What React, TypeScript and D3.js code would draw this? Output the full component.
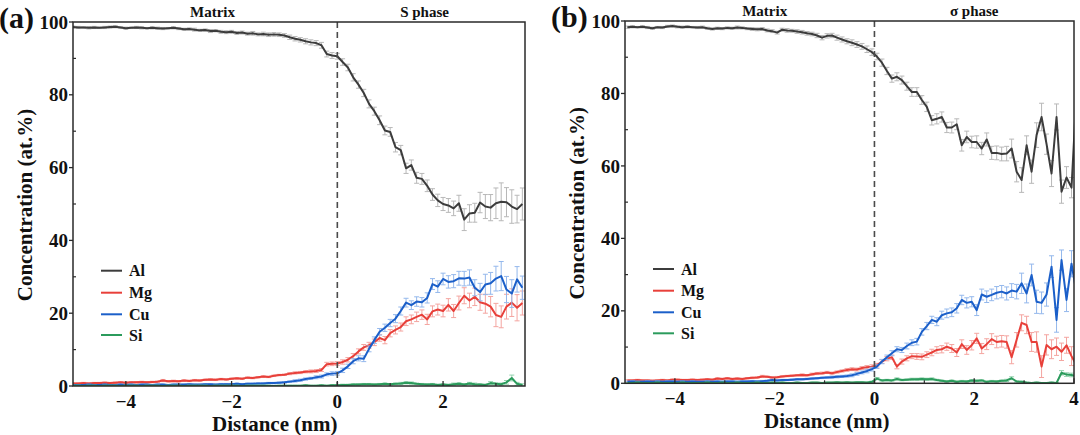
import * as d3 from "d3";

const FONT = '"Liberation Serif", "Times New Roman", serif';

const elements = ["Al", "Mg", "Cu", "Si"];
const lineColors = ["#3c3c3c", "#e8403a", "#1b5fc9", "#2b9b5c"];
const barColors = ["#b8b8b8", "#f4a5a0", "#94b8ec", "#94d2ae"];

const yMajor = [0, 20, 40, 60, 80, 100];
const yMinor = [10, 30, 50, 70, 90];

// (a) Matrix / S phase, sampled every 0.1 nm from -5.0 nm
const distA = d3.range(86).map((i) => -5 + i * 0.1);
const xMajorA = [-4, -2, 0, 2];
const xMinorA = [-3, -1, 1, 3];

const alA = [
  98.6, 98.5, 98.5, 98.4, 98.5, 98.4, 98.5, 98.6, 98.7, 98.5,
  98.3, 98.4, 98.5, 98.4, 98.3, 98.4, 98.3, 98.2, 98.3, 98.4,
  98.2, 98.0, 98.1, 97.9, 97.7, 97.8, 97.5, 97.6, 97.3, 97.2,
  97.3, 97.0, 97.1, 96.8, 96.9, 96.6, 96.7, 96.5, 96.6, 96.5,
  96.3, 95.8, 95.4, 95.1, 94.7, 94.4, 94.2, 93.6, 91.2, 90.8,
  90.6, 89.0, 87.5, 84.8, 82.8, 80.5, 77.5, 75.5, 73.0, 70.2,
  69.8, 65.6, 64.8, 59.8, 60.7, 57.2, 56.9, 55.0, 52.6, 51.0,
  50.0, 49.6, 48.8, 50.2, 45.7, 47.4, 47.6, 50.4, 49.3, 49.0,
  50.2, 50.6, 50.5, 49.3, 48.6, 50.0,
];
const mgA = [
  0.7, 0.7, 0.8, 0.7, 0.8, 0.8, 0.9, 0.8, 0.9, 1.0,
  0.9, 1.0, 1.0, 1.1, 1.0, 1.1, 1.2, 1.5, 1.3, 1.4,
  1.3, 1.5, 1.4, 1.6, 1.5, 1.7, 1.8, 1.7, 1.9, 1.8,
  2.0, 2.1, 2.0, 2.3, 2.2, 2.4, 2.6, 2.5, 2.8, 3.0,
  3.1, 3.4, 3.6, 3.7, 3.9, 4.0, 4.1, 4.4, 6.0, 6.1,
  6.2, 6.6, 7.2, 8.2, 9.5, 10.6, 11.2, 12.0, 13.2, 12.6,
  14.5, 15.4, 16.2, 17.8, 18.3, 19.0, 19.6, 18.3, 20.5, 21.0,
  20.6, 22.3, 20.6, 22.8, 24.8, 23.5, 24.5, 23.0, 22.6, 21.8,
  19.5, 19.0, 21.8, 22.9, 21.5, 22.8,
];
const cuA = [
  0.3, 0.3, 0.3, 0.4, 0.3, 0.3, 0.4, 0.3, 0.3, 0.4,
  0.3, 0.4, 0.3, 0.4, 0.4, 0.3, 0.4, 0.4, 0.3, 0.4,
  0.4, 0.4, 0.5, 0.4, 0.4, 0.5, 0.5, 0.4, 0.5, 0.5,
  0.5, 0.6, 0.5, 0.6, 0.6, 0.7, 0.7, 0.8, 0.8, 0.9,
  1.0, 1.2, 1.4, 1.6, 1.9, 2.1, 2.4, 2.6, 3.2, 3.4,
  3.5, 4.3, 5.4, 6.8, 7.6, 7.5, 10.2, 12.6, 14.9, 16.0,
  17.3, 18.5, 20.6, 22.9, 22.2, 23.2, 23.0, 24.2, 28.0, 27.3,
  29.4, 28.6, 28.8, 29.6, 29.5, 29.8, 27.0, 25.8, 27.9, 28.2,
  29.5, 30.2, 26.5, 25.4, 29.3, 27.0,
];
const siA = [
  0.1, 0.1, 0.0, 0.1, 0.1, 0.0, 0.1, 0.1, 0.1, 0.0,
  0.1, 0.1, 0.1, 0.0, 0.1, 0.1, 0.1, 0.0, 0.1, 0.1,
  0.1, 0.0, 0.1, 0.1, 0.1, 0.1, 0.0, 0.1, 0.1, 0.1,
  0.1, 0.1, 0.0, 0.1, 0.1, 0.1, 0.1, 0.1, 0.0, 0.1,
  0.1, 0.1, 0.1, 0.1, 0.2, 0.1, 0.1, 0.2, 0.1, 0.2,
  0.2, 0.3, 0.3, 0.4, 0.4, 0.5, 0.5, 0.4, 0.5, 0.6,
  0.5, 0.6, 0.7, 0.9, 0.8, 0.6, 0.5, 0.4, 0.5, 0.3,
  0.4, 0.3, 0.5, 0.6, 0.4, 0.7, 0.5, 0.4, 0.3, 0.8,
  0.6, 0.5, 1.0, 2.2, 0.6, 0.3,
];
const alErrA = [
  0.3, 0.3, 0.2, 0.3, 0.3, 0.2, 0.3, 0.3, 0.3, 0.2,
  0.3, 0.2, 0.3, 0.3, 0.2, 0.3, 0.3, 0.3, 0.2, 0.3,
  0.3, 0.3, 0.3, 0.4, 0.3, 0.3, 0.4, 0.3, 0.4, 0.4,
  0.4, 0.4, 0.4, 0.4, 0.5, 0.4, 0.5, 0.5, 0.5, 0.5,
  0.5, 0.6, 0.6, 0.6, 0.7, 0.7, 0.7, 0.8, 0.8, 0.8,
  0.8, 0.9, 0.9, 1.0, 1.0, 1.0, 1.1, 1.1, 1.2, 1.2,
  1.2, 1.3, 1.3, 1.4, 1.4, 1.5, 1.5, 1.6, 1.6, 1.7,
  1.8, 1.9, 2.0, 2.2, 3.0, 2.4, 2.6, 2.8, 3.3, 3.6,
  4.2, 5.2, 4.0, 4.6, 3.8, 4.4,
];
const mgErrA = [
  0.2, 0.2, 0.2, 0.2, 0.2, 0.2, 0.2, 0.2, 0.2, 0.2,
  0.2, 0.2, 0.2, 0.2, 0.2, 0.2, 0.2, 0.3, 0.2, 0.2,
  0.2, 0.2, 0.2, 0.2, 0.2, 0.2, 0.2, 0.2, 0.2, 0.2,
  0.2, 0.2, 0.2, 0.2, 0.2, 0.2, 0.2, 0.2, 0.2, 0.2,
  0.2, 0.3, 0.3, 0.3, 0.3, 0.4, 0.4, 0.4, 0.5, 0.5,
  0.5, 0.6, 0.6, 0.7, 0.7, 0.8, 0.8, 0.9, 0.9, 1.0,
  1.0, 1.1, 1.1, 1.2, 1.2, 1.3, 1.3, 1.4, 1.5, 1.5,
  1.6, 1.7, 1.8, 1.9, 2.2, 2.0, 2.4, 2.2, 2.6, 2.8,
  3.2, 3.0, 3.4, 3.8, 3.6, 3.3,
];
const cuErrA = [
  0.1, 0.1, 0.1, 0.1, 0.1, 0.1, 0.1, 0.1, 0.1, 0.1,
  0.1, 0.1, 0.1, 0.1, 0.1, 0.1, 0.1, 0.1, 0.1, 0.1,
  0.1, 0.1, 0.1, 0.1, 0.1, 0.1, 0.1, 0.1, 0.2, 0.2,
  0.2, 0.2, 0.2, 0.2, 0.2, 0.2, 0.2, 0.2, 0.2, 0.2,
  0.2, 0.2, 0.3, 0.3, 0.3, 0.3, 0.4, 0.4, 0.4, 0.5,
  0.5, 0.6, 0.6, 0.7, 0.7, 0.8, 0.8, 0.9, 0.9, 1.0,
  1.0, 1.1, 1.1, 1.2, 1.2, 1.3, 1.3, 1.4, 1.5, 1.6,
  1.6, 1.7, 1.8, 1.9, 2.0, 2.1, 2.2, 2.4, 2.8, 3.0,
  3.4, 4.0, 3.6, 3.8, 3.5, 3.2,
];
const siErrA = [
  0.1, 0.1, 0.1, 0.1, 0.1, 0.1, 0.1, 0.1, 0.1, 0.1,
  0.1, 0.1, 0.1, 0.1, 0.1, 0.1, 0.1, 0.1, 0.1, 0.1,
  0.1, 0.1, 0.1, 0.1, 0.1, 0.1, 0.1, 0.1, 0.1, 0.1,
  0.1, 0.1, 0.1, 0.1, 0.1, 0.1, 0.1, 0.1, 0.1, 0.1,
  0.1, 0.1, 0.1, 0.1, 0.1, 0.1, 0.1, 0.1, 0.1, 0.2,
  0.2, 0.2, 0.2, 0.2, 0.2, 0.2, 0.2, 0.2, 0.2, 0.2,
  0.2, 0.2, 0.3, 0.3, 0.3, 0.2, 0.2, 0.2, 0.2, 0.2,
  0.2, 0.2, 0.3, 0.3, 0.2, 0.3, 0.3, 0.2, 0.2, 0.4,
  0.3, 0.3, 0.5, 0.8, 0.4, 0.3,
];

// (b) Matrix / sigma phase, sampled every 0.1 nm from -4.95 nm
const distB = d3.range(91).map((i) => -4.95 + i * 0.1);
const xMajorB = [-4, -2, 0, 2, 4];
const xMinorB = [-3, -1, 1, 3];

const alB = [
  98.3, 98.4, 98.3, 98.4, 98.2, 98.0, 98.3, 98.2, 98.5, 98.6,
  98.4, 98.3, 98.4, 98.3, 98.2, 98.3, 98.0, 97.8, 98.0, 97.9,
  98.1, 98.0, 98.2, 98.1, 97.9, 97.8, 97.7, 97.8, 97.4, 97.2,
  96.8, 97.6, 97.4, 97.3, 97.1, 96.9, 96.6, 96.4, 96.0, 95.4,
  95.9, 96.0, 95.4, 94.9, 94.4, 94.0, 93.5, 93.0, 92.2, 91.4,
  90.2, 88.5, 86.2, 84.1, 84.6, 83.7, 82.0, 80.4, 80.4, 78.2,
  76.3, 72.6, 73.0, 73.5, 70.6, 70.6, 71.5, 65.7, 68.0, 66.6,
  66.6, 64.8, 67.3, 63.6, 63.6, 63.3, 63.4, 64.8, 58.4, 56.1,
  65.7, 58.4, 68.5, 73.5, 66.0, 57.9, 73.5, 52.9, 56.8, 54.0,
  80.0,
];
const mgB = [
  0.8, 0.8, 0.9, 0.8, 0.8, 0.7, 0.8, 0.9, 0.8, 1.0,
  1.0, 0.9, 0.9, 1.0, 0.9, 1.0, 1.1, 1.0, 1.3, 1.2,
  1.4, 1.2, 1.3, 1.2, 1.4, 1.5, 1.6, 1.9, 1.8, 1.6,
  1.7, 1.9, 2.0, 2.1, 2.2, 2.3, 2.2, 2.5, 2.7, 2.8,
  3.0, 2.8, 3.1, 3.4, 3.7, 3.9, 3.8, 4.2, 4.4, 4.6,
  5.0, 6.0, 6.8, 7.2, 4.6, 6.0, 6.9, 7.5, 7.4, 7.3,
  7.9, 8.5, 9.2, 9.4, 10.1, 9.6, 8.5, 10.8, 9.2, 10.5,
  12.4, 9.6, 10.8, 12.2, 11.4, 11.6, 11.4, 7.2, 12.0, 16.7,
  16.1, 11.4, 11.4, 4.6, 10.6, 9.4, 10.1, 8.7, 10.5, 7.5,
  5.0,
];
const cuB = [
  0.4, 0.5, 0.4, 0.4, 0.5, 0.4, 0.5, 0.4, 0.5, 0.5,
  0.4, 0.5, 0.4, 0.5, 0.4, 0.4, 0.5, 0.4, 0.5, 0.4,
  0.5, 0.5, 0.4, 0.5, 0.5, 0.6, 0.5, 0.6, 0.7, 0.9,
  0.8, 0.9, 0.9, 1.0, 1.1, 1.1, 1.2, 1.3, 1.4, 1.5,
  1.6, 1.7, 1.8, 1.9, 2.0, 2.2, 2.6, 3.0, 3.4, 3.9,
  4.6, 6.0, 7.2, 8.3, 9.4, 9.2, 10.3, 11.2, 11.5, 14.2,
  15.8, 17.5, 17.0, 18.8, 19.3, 19.6, 20.7, 23.0, 22.2, 22.5,
  20.2, 24.5, 23.9, 24.4, 25.0, 25.3, 24.8, 25.6, 25.3, 27.6,
  24.8, 29.9, 22.5, 22.2, 24.5, 32.2, 17.5, 34.0, 23.0, 33.0,
  25.0,
];
const siB = [
  0.1, 0.1, 0.2, 0.1, 0.1, 0.1, 0.2, 0.1, 0.1, 0.1,
  0.1, 0.2, 0.1, 0.1, 0.1, 0.1, 0.2, 0.1, 0.1, 0.2,
  0.1, 0.1, 0.2, 0.1, 0.1, 0.1, 0.2, 0.1, 0.1, 0.2,
  0.1, 0.2, 0.1, 0.1, 0.2, 0.1, 0.1, 0.2, 0.2, 0.1,
  0.2, 0.2, 0.3, 0.2, 0.3, 0.2, 0.3, 0.3, 0.2, 0.4,
  1.3, 0.8, 0.9, 0.8, 1.2, 0.9, 1.0, 1.1, 1.1, 1.2,
  1.1, 1.2, 0.9, 0.7, 0.5, 0.7, 0.4, 0.6, 0.5, 0.8,
  0.7, 0.8, 0.4, 0.6, 0.5, 0.7, 0.8, 1.4, 0.5, 0.4,
  0.2, 0.1, 0.2, 0.1, 0.1, 0.2, 0.1, 2.9, 2.4, 2.3,
  2.0,
];
const alErrB = [
  0.3, 0.3, 0.2, 0.3, 0.3, 0.3, 0.2, 0.3, 0.3, 0.3,
  0.3, 0.3, 0.3, 0.2, 0.3, 0.3, 0.3, 0.3, 0.3, 0.3,
  0.3, 0.3, 0.4, 0.3, 0.3, 0.4, 0.4, 0.4, 0.4, 0.4,
  0.4, 0.4, 0.5, 0.4, 0.5, 0.5, 0.5, 0.5, 0.6, 0.6,
  0.6, 0.6, 0.7, 0.7, 0.7, 0.8, 0.8, 0.8, 0.9, 0.9,
  0.9, 1.0, 1.0, 1.0, 1.1, 1.1, 1.1, 1.2, 1.2, 1.2,
  1.3, 1.3, 1.4, 1.4, 1.4, 1.5, 1.5, 1.6, 1.6, 1.6,
  1.7, 1.7, 1.8, 1.8, 1.9, 1.9, 2.0, 2.6, 2.8, 3.4,
  2.6, 3.2, 3.4, 3.8, 2.8, 3.6, 3.6, 3.2, 3.0, 2.8,
  3.0,
];
const mgErrB = [
  0.2, 0.2, 0.2, 0.2, 0.2, 0.2, 0.2, 0.2, 0.2, 0.2,
  0.2, 0.2, 0.2, 0.2, 0.2, 0.2, 0.2, 0.2, 0.2, 0.2,
  0.2, 0.2, 0.2, 0.2, 0.2, 0.2, 0.2, 0.3, 0.2, 0.2,
  0.2, 0.2, 0.2, 0.2, 0.2, 0.3, 0.2, 0.3, 0.3, 0.3,
  0.3, 0.3, 0.3, 0.3, 0.4, 0.4, 0.4, 0.4, 0.5, 0.5,
  0.5, 0.5, 0.6, 0.6, 0.6, 0.7, 0.7, 0.7, 0.8, 0.8,
  0.8, 0.9, 0.9, 1.0, 1.0, 1.1, 1.1, 1.2, 1.2, 1.3,
  1.4, 1.4, 1.5, 1.5, 1.6, 1.6, 1.7, 1.8, 2.0, 2.2,
  2.4, 2.6, 2.8, 3.0, 2.8, 2.6, 2.4, 2.4, 2.2, 2.6,
  2.4,
];
const cuErrB = [
  0.2, 0.2, 0.2, 0.2, 0.2, 0.2, 0.2, 0.2, 0.2, 0.2,
  0.2, 0.2, 0.2, 0.2, 0.2, 0.2, 0.2, 0.2, 0.2, 0.2,
  0.2, 0.2, 0.2, 0.2, 0.2, 0.2, 0.2, 0.2, 0.2, 0.2,
  0.2, 0.2, 0.2, 0.2, 0.2, 0.2, 0.2, 0.2, 0.2, 0.2,
  0.2, 0.3, 0.3, 0.3, 0.3, 0.4, 0.4, 0.4, 0.5, 0.5,
  0.5, 0.6, 0.6, 0.7, 0.7, 0.7, 0.8, 0.8, 0.9, 0.9,
  1.0, 1.0, 1.1, 1.1, 1.2, 1.2, 1.3, 1.3, 1.4, 1.4,
  1.5, 1.5, 1.6, 1.6, 1.7, 1.7, 1.8, 1.9, 2.0, 2.8,
  2.6, 3.0, 3.2, 3.0, 3.2, 3.0, 3.4, 2.8, 3.2, 3.6,
  3.0,
];
const siErrB = [
  0.1, 0.1, 0.1, 0.1, 0.1, 0.1, 0.1, 0.1, 0.1, 0.1,
  0.1, 0.1, 0.1, 0.1, 0.1, 0.1, 0.1, 0.1, 0.1, 0.1,
  0.1, 0.1, 0.1, 0.1, 0.1, 0.1, 0.1, 0.1, 0.1, 0.1,
  0.1, 0.1, 0.1, 0.1, 0.1, 0.1, 0.1, 0.1, 0.1, 0.1,
  0.1, 0.1, 0.1, 0.1, 0.1, 0.1, 0.1, 0.1, 0.1, 0.2,
  0.3, 0.2, 0.2, 0.2, 0.3, 0.2, 0.2, 0.3, 0.3, 0.3,
  0.3, 0.3, 0.2, 0.2, 0.2, 0.2, 0.2, 0.2, 0.2, 0.2,
  0.2, 0.2, 0.2, 0.2, 0.2, 0.2, 0.3, 0.4, 0.2, 0.2,
  0.1, 0.1, 0.1, 0.1, 0.1, 0.1, 0.1, 0.6, 0.5, 0.5,
  0.5,
];

type Box = { left: number; right: number; top: number; bottom: number };

type PanelProps = {
  id: string;
  tag: string;
  phase: string;
  box: Box;
  xMax: number;
  xMajor: number[];
  xMinor: number[];
  dist: number[];
  values: number[][];
  errors: number[][];
  legendX: number;
  legendRows: number[];
  yTitleX: number;
  xTitleStart: number;
  xLabelY: number;
  matrixAt: number;
  phaseAt: number;
};

function Panel({
  id,
  tag,
  phase,
  box,
  xMax,
  xMajor,
  xMinor,
  dist,
  values,
  errors,
  legendX,
  legendRows,
  yTitleX,
  xTitleStart,
  xLabelY,
  matrixAt,
  phaseAt,
}: PanelProps) {
  const x = d3.scaleLinear().domain([-5, xMax]).range([box.left, box.right]);
  const y = d3.scaleLinear().domain([0, 100]).range([box.bottom, box.top]);
  const clipId = `clip-${id}`;
  const cap = 2.5;

  const line = d3
    .line<number>()
    .x((_, i) => x(dist[i]))
    .y((d) => y(d));

  return (
    <g fontFamily={FONT} fontWeight="bold" fill="#111">
      <defs>
        <clipPath id={clipId}>
          <rect
            x={box.left}
            y={box.top}
            width={box.right - box.left}
            height={box.bottom - box.top}
          />
        </clipPath>
      </defs>

      <g clipPath={`url(#${clipId})`}>
        {values.map((vals, s) => (
          <g key={elements[s]}>
            <g stroke={barColors[s]} strokeWidth={1} fill="none">
              {vals.map((v, i) => {
                const cx = x(dist[i]);
                const e = errors[s][i];
                const y1 = y(v - e);
                const y2 = y(v + e);
                return (
                  <path
                    key={i}
                    d={`M${cx},${y1}V${y2}M${cx - cap},${y1}H${cx + cap}M${cx - cap},${y2}H${cx + cap}`}
                  />
                );
              })}
            </g>
            <path
              d={line(vals) ?? ""}
              fill="none"
              stroke={lineColors[s]}
              strokeWidth={2}
              strokeLinejoin="round"
            />
          </g>
        ))}
      </g>

      <line
        x1={x(0)}
        x2={x(0)}
        y1={box.top}
        y2={box.bottom}
        stroke="#4a4a4a"
        strokeWidth={1.6}
        strokeDasharray="6,4"
      />

      <rect
        x={box.left}
        y={box.top}
        width={box.right - box.left}
        height={box.bottom - box.top}
        fill="none"
        stroke="#2a2a2a"
        strokeWidth={1.5}
      />

      {yMajor.map((t) => (
        <g key={`ym${t}`}>
          <line x1={box.left - 4} x2={box.left} y1={y(t)} y2={y(t)} stroke="#2a2a2a" strokeWidth={1.3} />
          <text x={box.left - 5} y={y(t)} dy="0.35em" textAnchor="end" fontSize={19}>
            {t}
          </text>
        </g>
      ))}
      {yMinor.map((t) => (
        <line key={`yn${t}`} x1={box.left} x2={box.left + 3} y1={y(t)} y2={y(t)} stroke="#2a2a2a" strokeWidth={1.2} />
      ))}
      {xMajor.map((t) => (
        <g key={`xm${t}`}>
          <line x1={x(t)} x2={x(t)} y1={box.bottom} y2={box.bottom - 5} stroke="#2a2a2a" strokeWidth={1.3} />
          <text x={x(t)} y={xLabelY} textAnchor="middle" fontSize={19}>
            {t < 0 ? `\u2212${Math.abs(t)}` : t}
          </text>
        </g>
      ))}
      {xMinor.map((t) => (
        <line key={`xn${t}`} x1={x(t)} x2={x(t)} y1={box.bottom} y2={box.bottom - 3} stroke="#2a2a2a" strokeWidth={1.2} />
      ))}

      <text x={xTitleStart} y={xLabelY + 23} fontSize={21}>
        Distance (nm)
      </text>
      <text
        transform={`translate(${yTitleX},${(box.top + box.bottom) / 2 + 1}) rotate(-90)`}
        textAnchor="middle"
        dy="0.35em"
        fontSize={21}
      >
        Concentration (at.%)
      </text>

      <text x={box.left - 74} y={box.top + 6} fontSize={30}>
        {tag}
      </text>
      <text x={x(matrixAt)} y={box.top - 5} textAnchor="middle" fontSize={15}>
        Matrix
      </text>
      <text x={x(phaseAt)} y={box.top - 5} textAnchor="middle" fontSize={15}>
        {phase}
      </text>

      {elements.map((el, s) => (
        <g key={`lg${el}`}>
          <line
            x1={legendX}
            x2={legendX + 21}
            y1={legendRows[s]}
            y2={legendRows[s]}
            stroke={lineColors[s]}
            strokeWidth={2}
          />
          <text x={legendX + 28} y={legendRows[s]} dy="0.35em" fontSize={16}>
            {el}
          </text>
        </g>
      ))}
    </g>
  );
}

export default function App() {
  return (
    <svg
      width={1080}
      height={435}
      style={{ position: "absolute", left: 0, top: 0, background: "#fff" }}
    >
      <Panel
        id="a"
        tag="(a)"
        phase="S phase"
        box={{ left: 73, right: 525, top: 22, bottom: 386 }}
        xMax={3.55}
        xMajor={xMajorA}
        xMinor={xMinorA}
        dist={distA}
        values={[alA, mgA, cuA, siA]}
        errors={[alErrA, mgErrA, cuErrA, siErrA]}
        legendX={101}
        legendRows={[270.7, 292.7, 314.3, 335]}
        yTitleX={25}
        xTitleStart={212}
        xLabelY={408}
        matrixAt={-2.36}
        phaseAt={1.65}
      />
      <Panel
        id="b"
        tag="(b)"
        phase="σ phase"
        box={{ left: 625, right: 1074, top: 21, bottom: 383.3 }}
        xMax={4}
        xMajor={xMajorB}
        xMinor={xMinorB}
        dist={distB}
        values={[alB, mgB, cuB, siB]}
        errors={[alErrB, mgErrB, cuErrB, siErrB]}
        legendX={653}
        legendRows={[269, 290.7, 312.3, 333.3]}
        yTitleX={577}
        xTitleStart={764}
        xLabelY={405}
        matrixAt={-2.2}
        phaseAt={2.0}
      />
    </svg>
  );
}
